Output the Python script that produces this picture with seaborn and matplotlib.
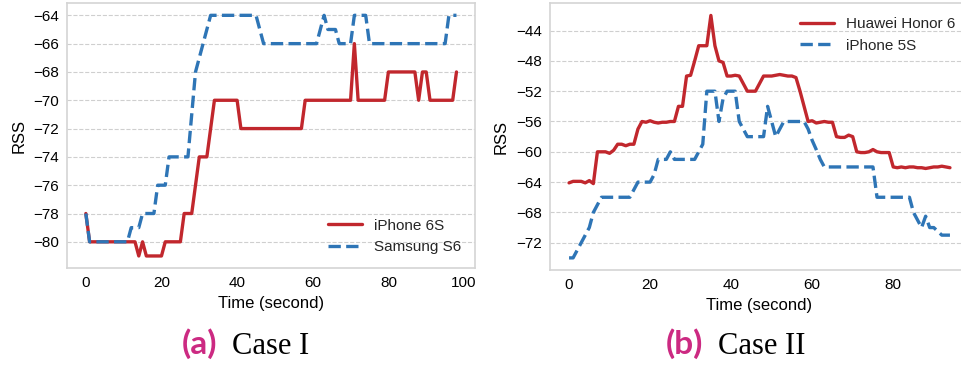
import matplotlib
matplotlib.use('Agg')
import matplotlib.pyplot as plt
import matplotlib.ticker as mticker
import numpy as np
import seaborn as sns

# ---- Case I : données ----
time_case1 = list(range(0, 99))
iphone6s = [
    -78, -80, -80, -80, -80, -80, -80, -80, -80, -80,
    -80, -80, -80, -80, -81, -80, -81, -81, -81, -81,
    -81, -80, -80, -80, -80, -80, -78, -78, -78, -76,
    -74, -74, -74, -72, -70, -70, -70, -70, -70, -70,
    -70, -72, -72, -72, -72, -72, -72, -72, -72, -72,
    -72, -72, -72, -72, -72, -72, -72, -72, -70, -70,
    -70, -70, -70, -70, -70, -70, -70, -70, -70, -70,
    -70, -66, -70, -70, -70, -70, -70, -70, -70, -70,
    -68, -68, -68, -68, -68, -68, -68, -68, -70, -68,
    -68, -70, -70, -70, -70, -70, -70, -70, -68,
]
samsung_s6 = [
    -78, -80, -80, -80, -80, -80, -80, -80, -80, -80,
    -80, -80, -79, -79, -79, -78, -78, -78, -78, -76,
    -76, -76, -74, -74, -74, -74, -74, -74, -71, -68,
    -67, -66, -65, -64, -64, -64, -64, -64, -64, -64,
    -64, -64, -64, -64, -64, -64, -65, -66, -66, -66,
    -66, -66, -66, -66, -66, -66, -66, -66, -66, -66,
    -66, -66, -65, -64, -65, -65, -65, -66, -66, -66,
    -66, -64, -64, -64, -64, -66, -66, -66, -66, -66,
    -66, -66, -66, -66, -66, -66, -66, -66, -66, -66,
    -66, -66, -66, -66, -66, -66, -64, -64, -64,
]

# ---- Case II ----
time_case2 = list(range(0, 95))
huawei_honor6 = [
    -64.1, -63.9, -63.9, -63.9, -64.1, -63.8, -64.2, -60.0, -60.0, -60.0,
    -60.2, -59.8, -59.0, -59.0, -59.2, -59.0, -59.0, -57.0, -56.0, -56.1,
    -55.9, -56.1, -56.2, -56.1, -56.1, -56.0, -56.0, -54.0, -54.0, -50.0,
    -49.9, -48.0, -46.0, -46.0, -46.0, -42.0, -46.0, -48.0, -48.2, -50.0,
    -50.0, -49.9, -50.0, -51.0, -52.0, -52.0, -52.0, -51.0, -50.0, -50.0,
    -50.0, -49.9, -49.8, -49.9, -50.0, -50.0, -50.2, -52.0, -54.0, -56.0,
    -55.9, -56.2, -56.1, -56.0, -56.1, -56.1, -58.0, -58.1, -58.1, -57.8,
    -58.0, -60.0, -60.1, -60.1, -60.0, -59.7, -60.0, -60.1, -60.1, -60.1,
    -62.0, -62.1, -62.0, -62.1, -62.0, -62.0, -62.1, -62.1, -62.2, -62.1,
    -62.0, -62.0, -61.9, -62.0, -62.1,
]
iphone5s = [
    -74, -74, -73, -72, -71, -70, -68, -67, -66, -66,
    -66, -66, -66, -66, -66, -66, -65, -64, -64, -64,
    -64, -63, -61, -61, -61, -60, -61, -61, -61, -61,
    -61, -61, -60, -59, -52, -52, -52, -56, -53, -52,
    -52, -52, -56, -57, -58, -58, -58, -58, -58, -54,
    -56, -58, -57, -56, -56, -56, -56, -56, -56, -57,
    -58.5, -59.7, -61, -62, -62, -62, -62, -62, -62, -62,
    -62, -62, -62, -62, -62, -62, -66, -66, -66, -66,
    -66, -66, -66, -66, -66, -68, -69, -70, -68.5, -70,
    -70, -70.5, -71, -71, -71,
]

RED  = '#c1272d'
BLUE = '#2e75b6'
PINK = '#cc2a82'

sns.set_style('whitegrid', {
    'axes.edgecolor': '#d4d4d4',
    'grid.color': '#cfcfcf',
    'grid.linestyle': '--',
})
plt.rcParams['font.family'] = ['Liberation Sans', 'DejaVu Sans']


def style_axes(ax, yticks_step):
    ax.grid(False, axis='x')
    ax.grid(True, axis='y', linewidth=0.8)
    ax.yaxis.set_major_locator(mticker.MultipleLocator(yticks_step))
    ax.xaxis.set_major_locator(mticker.MultipleLocator(20))
    ax.tick_params(length=0, pad=6, labelsize=11, colors='black')
    for sp in ax.spines.values():
        sp.set_linewidth(1.2)
    ax.set_xlabel('Time (second)', fontsize=12, labelpad=4, color='black')
    ax.set_ylabel('RSS', fontsize=12, labelpad=5, color='black')


fig = plt.figure(figsize=(9.62, 3.67), dpi=100)

# ---- (a) Case I ----
ax1 = fig.add_axes([67.3 / 962, 1 - 268 / 367, 407.7 / 962, 264.7 / 367])
sns.lineplot(x=time_case1, y=iphone6s, ax=ax1, color=RED, linewidth=2.4,
             label='iPhone 6S')
sns.lineplot(x=time_case1, y=samsung_s6, ax=ax1, color=BLUE, linewidth=2.4,
             linestyle='--', label='Samsung S6')
style_axes(ax1, 2)
ax1.legend(loc='lower right', frameon=False, fontsize=11, handlelength=2.2)

# ---- (b) Case II ----
ax2 = fig.add_axes([550 / 962, 1 - 270 / 367, 419 / 962, 266.7 / 367])
sns.lineplot(x=time_case2, y=huawei_honor6, ax=ax2, color=RED, linewidth=2.4,
             label='Huawei Honor 6')
sns.lineplot(x=time_case2, y=iphone5s, ax=ax2, color=BLUE, linewidth=2.4,
             linestyle='--', label='iPhone 5S')
style_axes(ax2, 4)
ax2.legend(loc='upper right', frameon=False, fontsize=11, handlelength=2.2)

# ---- légendes des sous-figures ----
cap_y = 1 - 354 / 367
fig.text(182 / 962, cap_y, '(a)', color=PINK, fontsize=24, fontweight='bold',
         family=['Lato', 'DejaVu Sans'], va='baseline')
fig.text(231.7 / 962, cap_y, 'Case I', color='black', fontsize=22,
         family=['Liberation Serif', 'DejaVu Serif'], va='baseline')
fig.text(666 / 962, cap_y, '(b)', color=PINK, fontsize=24, fontweight='bold',
         family=['Lato', 'DejaVu Sans'], va='baseline')
fig.text(718 / 962, cap_y, 'Case II', color='black', fontsize=22,
         family=['Liberation Serif', 'DejaVu Serif'], va='baseline')

fig.savefig('out.png', dpi=100)
